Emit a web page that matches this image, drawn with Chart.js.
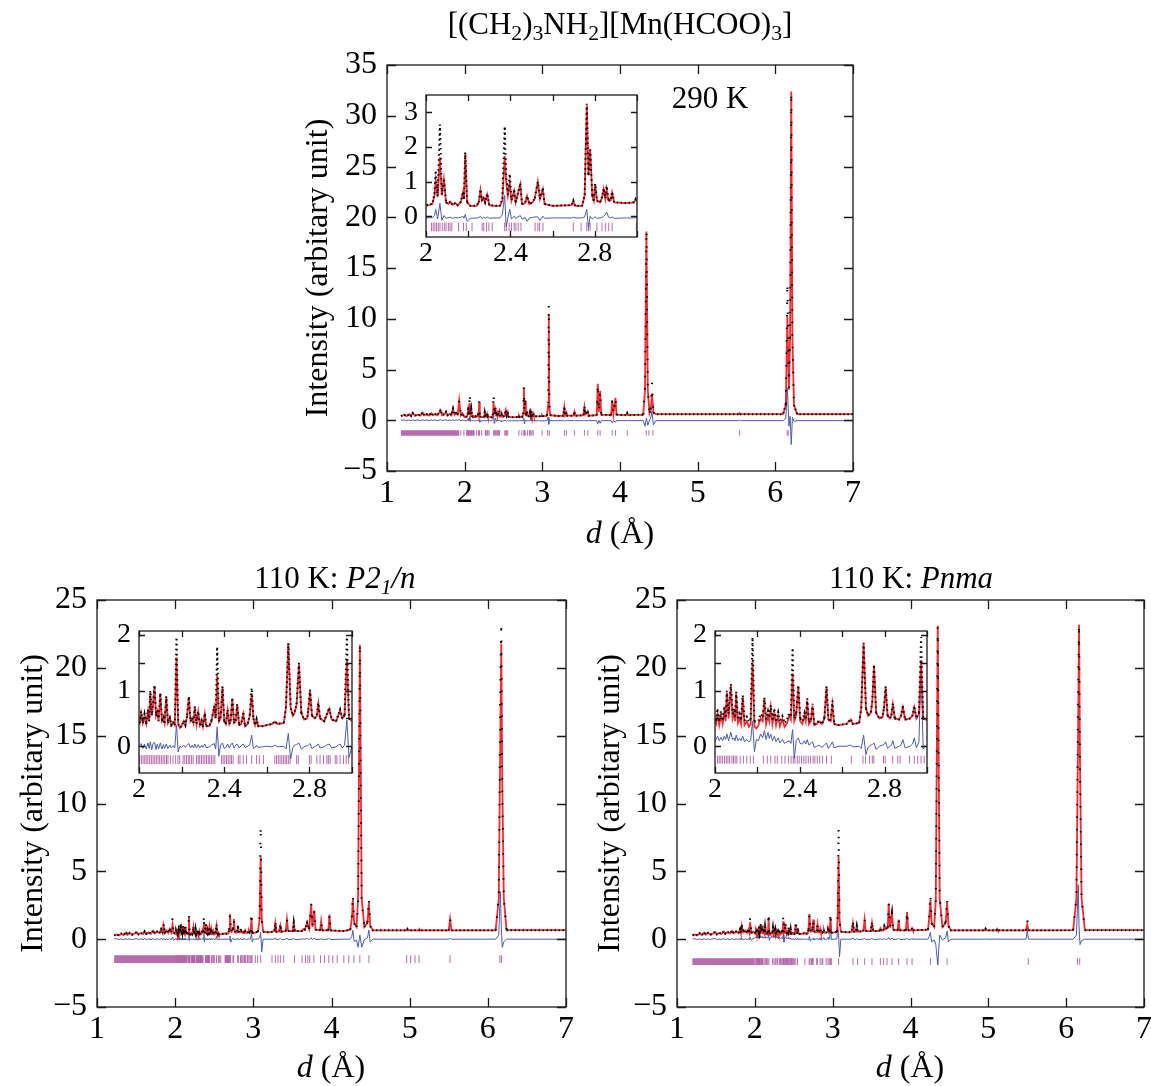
<!DOCTYPE html>
<html>
<head>
<meta charset="utf-8">
<script src="https://cdn.jsdelivr.net/npm/chart.js@4.4.1/dist/chart.umd.min.js"></script>
<style>
  body { margin: 0; background: #fff; }
  #page { position: relative; width: 1151px; height: 1086px; font-family: "Liberation Serif", "Times New Roman", serif; color: #000; }
  canvas { position: absolute; }
  .lbl { position: absolute; white-space: nowrap; transform: translate(-50%, -50%); line-height: 1; }
  sub { font-size: 0.7em; vertical-align: -0.32em; line-height: 0; }
</style>
</head>
<body>
<div id="page">
  <canvas id="cTop" width="600" height="510" style="left:287px;top:45px"></canvas>
  <canvas id="cLeft" width="600" height="501" style="left:0px;top:585px"></canvas>
  <canvas id="cRight" width="571" height="501" style="left:580px;top:585px"></canvas>
  <canvas id="iTop" width="268" height="180" style="left:380px;top:88px"></canvas>
  <canvas id="iLeft" width="270" height="180" style="left:95px;top:622px"></canvas>
  <canvas id="iRight" width="270" height="180" style="left:670px;top:622px"></canvas>

  <div class="lbl" style="left:620px;top:23px;font-size:31px">[(CH<sub>2</sub>)<sub>3</sub>NH<sub>2</sub>][Mn(HCOO)<sub>3</sub>]</div>
  <div class="lbl" style="left:710px;top:97px;font-size:31px">290 K</div>
  <div class="lbl" style="left:620px;top:532px;font-size:32px"><i>d</i> (Å)</div>
  <div class="lbl" style="left:335px;top:577px;font-size:31px">110 K: <i>P2</i><sub><i>1</i></sub><i>/n</i></div>
  <div class="lbl" style="left:911px;top:577px;font-size:31px">110 K: <i>Pnma</i></div>
  <div class="lbl" style="left:331px;top:1066px;font-size:32px"><i>d</i> (Å)</div>
  <div class="lbl" style="left:910px;top:1066px;font-size:32px"><i>d</i> (Å)</div>
</div>

<script>
// ---------- axis ticks ----------
const mainXTicks = [1, 2, 3, 4, 5, 6, 7];
const mainXLabels = ['1', '2', '3', '4', '5', '6', '7'];
const topYTicks = [-5, 0, 5, 10, 15, 20, 25, 30, 35];
const topYLabels = ['\u22125', '0', '5', '10', '15', '20', '25', '30', '35'];
const botYTicks = [-5, 0, 5, 10, 15, 20, 25];
const botYLabels = ['\u22125', '0', '5', '10', '15', '20', '25'];
const insetXTicks = [2, 2.2, 2.4, 2.6, 2.8, 3];
const insetXLabels = ['2', '', '2.4', '', '2.8', ''];
const topInsetYTicks = [0, 1, 2, 3];
const topInsetYLabels = ['0', '1', '2', '3'];
const botInsetYTicks = [0, 0.5, 1, 1.5, 2];
const botInsetYLabels = ['0', '', '1', '', '2'];

// ---------- 290 K ----------
const d290 = [1.18,1.22,1.25,1.29,1.31,1.33,1.36,1.40,1.43,1.46,
  1.48,1.51,1.54,1.57,1.59,1.62,1.65,1.69,1.71,1.74,
  1.76,1.78,1.81,1.83,1.85,1.87,1.89,1.91,1.93,1.95,
  1.97,1.99,2.000,2.030,2.040,2.046,2.055,2.066,2.075,2.085,
  2.095,2.105,2.115,2.125,2.140,2.150,2.165,2.175,2.180,2.186,
  2.195,2.210,2.240,2.250,2.258,2.265,2.272,2.280,2.290,2.300,
  2.320,2.350,2.362,2.373,2.380,2.388,2.397,2.405,2.412,2.418,
  2.425,2.433,2.447,2.455,2.470,2.479,2.490,2.505,2.515,2.530,
  2.540,2.554,2.562,2.600,2.690,2.698,2.706,2.740,2.752,2.762,
  2.770,2.778,2.788,2.795,2.802,2.810,2.825,2.835,2.842,2.850,
  2.856,2.865,2.875,2.882,2.892,2.950,2.985,2.994,3.000,3.030,
  3.060,3.075,3.083,3.090,3.100,3.200,3.270,3.283,3.295,3.310,
  3.320,3.400,3.413,3.425,3.530,3.542,3.555,3.585,3.597,3.700,
  3.714,3.728,3.745,3.758,3.885,3.899,3.915,3.942,3.955,4.080,
  4.093,4.105,4.300,4.322,4.340,4.358,4.380,4.395,4.412,4.430,
  4.460,5.530,5.540,5.550,6.100,6.135,6.155,6.175,6.190,6.205,
  6.220,6.240,6.280,7.000];
const calc290 = [0.40,0.55,0.40,0.60,0.42,0.70,0.45,0.55,0.45,0.75,
  0.48,0.60,0.45,0.70,0.50,0.60,0.48,1.00,0.50,0.60,
  0.80,0.50,0.65,0.50,1.10,0.55,0.70,0.55,1.95,0.50,
  0.70,0.40,0.30,0.35,0.60,1.02,0.55,1.70,0.60,1.07,
  0.40,0.35,0.42,0.33,0.38,0.32,0.40,0.68,0.50,1.81,
  0.40,0.30,0.30,0.40,0.76,0.45,0.53,0.40,0.63,0.32,
  0.30,0.30,0.45,1.74,1.00,0.60,0.97,0.45,0.60,0.73,
  0.40,0.60,0.92,0.35,0.38,0.58,0.35,0.40,0.50,0.99,
  0.50,0.78,0.35,0.30,0.32,0.44,0.30,0.30,0.60,3.20,
  1.20,1.94,0.60,0.45,0.92,0.45,0.40,0.55,0.78,0.50,
  0.78,0.45,0.45,0.68,0.40,0.38,0.40,0.49,0.42,0.40,
  0.45,1.50,10.50,1.50,0.50,0.42,0.45,1.30,0.50,0.75,
  0.45,0.45,0.85,0.45,0.50,1.30,0.60,0.90,0.45,0.50,
  3.60,0.80,2.90,0.55,0.50,2.00,0.60,2.20,0.55,0.50,
  0.70,0.50,0.55,3.00,18.60,3.00,0.70,1.00,2.60,0.80,
  0.60,0.60,0.70,0.60,0.60,1.50,10.20,3.00,8.00,32.40,
  8.00,1.50,0.60,0.60];
const obs290 = [0.40,0.58,0.40,0.62,0.42,0.72,0.45,0.58,0.45,0.78,
  0.48,0.60,0.45,0.74,0.50,0.62,0.48,1.05,0.50,0.62,
  0.85,0.50,0.66,0.50,1.15,0.55,0.72,0.55,2.00,0.50,
  0.70,0.40,0.32,0.36,0.65,1.33,0.58,2.65,0.62,1.10,
  0.40,0.36,0.43,0.33,0.39,0.32,0.42,0.70,0.50,1.85,
  0.40,0.30,0.31,0.40,0.78,0.45,0.55,0.40,0.65,0.32,
  0.31,0.30,0.50,2.60,1.16,0.62,1.23,0.47,0.61,0.75,
  0.40,0.61,0.94,0.35,0.39,0.58,0.35,0.41,0.52,1.00,
  0.50,0.80,0.35,0.30,0.32,0.45,0.30,0.30,0.62,3.25,
  1.15,1.92,0.60,0.45,0.94,0.45,0.40,0.56,0.80,0.52,
  0.88,0.46,0.45,0.70,0.40,0.38,0.40,0.50,0.42,0.40,
  0.46,1.60,11.40,1.55,0.50,0.42,0.45,1.32,0.50,0.76,
  0.45,0.45,0.86,0.45,0.50,1.32,0.60,0.92,0.45,0.50,
  3.55,0.82,2.85,0.55,0.50,2.02,0.60,2.22,0.55,0.50,
  0.72,0.50,0.55,3.10,18.70,2.90,0.75,1.10,3.70,0.75,
  0.60,0.60,0.70,0.60,0.60,1.60,13.50,3.20,8.00,32.30,
  8.10,1.50,0.60,0.60];
const diff290 = [0.00,0.03,-0.02,0.02,-0.03,0.03,-0.02,0.03,-0.04,0.04,
  -0.02,0.02,-0.03,0.04,-0.02,0.03,-0.05,0.06,-0.03,0.02,
  0.05,-0.04,0.02,-0.03,0.06,-0.05,0.03,-0.02,0.08,-0.06,
  0.02,-0.02,-0.05,-0.04,0.02,0.20,-0.08,0.37,-0.12,0.02,
  -0.06,-0.04,-0.03,-0.06,-0.04,-0.05,-0.03,0.00,-0.06,0.05,
  -0.15,-0.06,-0.05,-0.04,0.00,-0.07,-0.03,-0.06,-0.02,-0.06,
  -0.05,-0.05,0.05,0.60,-0.30,-0.05,0.20,-0.08,-0.03,0.00,
  -0.07,-0.03,0.02,-0.08,-0.04,-0.15,-0.05,-0.04,-0.02,-0.02,
  -0.12,0.00,-0.06,-0.05,-0.05,-0.03,-0.05,-0.05,-0.02,0.20,
  -0.35,0.00,-0.08,-0.05,-0.02,-0.06,-0.05,-0.03,0.00,0.05,
  0.12,-0.02,-0.05,-0.02,-0.06,-0.05,-0.05,-0.04,-0.05,-0.05,
  -0.04,0.30,-0.40,0.10,-0.05,-0.04,-0.04,-0.10,-0.04,-0.02,
  -0.04,-0.04,-0.03,-0.04,-0.04,-0.05,-0.04,-0.03,-0.04,-0.04,
  -0.35,0.00,-0.30,-0.04,-0.04,-0.25,-0.04,-0.20,-0.04,-0.04,
  -0.02,-0.04,-0.04,-0.60,0.20,-0.50,0.05,0.20,0.90,-0.45,
  -0.04,-0.04,0.02,-0.04,-0.04,0.20,3.20,-0.60,0.40,-2.40,
  0.30,-0.10,-0.04,-0.04];
const band290 = [1.18, 1.93];
const ticks290 = [1.95,1.99,2.026,2.034,2.042,2.050,2.058,2.066,2.077,2.087,2.095,2.106,2.114,2.122,
  2.154,2.178,2.191,2.218,2.266,2.274,2.287,2.298,2.314,2.373,2.381,2.394,2.405,2.418,2.426,2.437,
  2.450,2.517,2.530,2.538,2.554,2.698,2.735,2.762,2.770,2.778,2.810,2.834,2.850,2.866,2.882,2.997,
  3.069,3.090,3.284,3.310,3.413,3.542,3.585,3.714,3.744,3.899,3.942,4.093,4.338,4.372,4.424,
  5.540,6.153,6.166];

// ---------- 110 K, P2_1/n ----------
const dMono = [1.22,1.25,1.28,1.31,1.34,1.37,1.39,1.42,1.45,1.48,
  1.51,1.53,1.56,1.59,1.61,1.63,1.66,1.69,1.72,1.74,
  1.77,1.80,1.82,1.84,1.85,1.87,1.89,1.91,1.93,1.95,
  1.966,1.98,
  2.003,2.010,2.018,2.026,2.034,2.042,2.048,2.053,2.060,2.066,
  2.073,2.080,2.086,2.092,2.100,2.108,2.115,2.120,2.128,2.136,
  2.145,2.152,2.160,2.168,2.176,2.184,2.192,2.200,2.210,2.218,
  2.226,2.234,2.242,2.250,2.256,2.262,2.270,2.278,2.286,2.294,
  2.300,2.309,2.316,2.330,2.340,2.353,2.360,2.367,2.375,2.383,
  2.392,2.400,2.408,2.416,2.424,2.430,2.438,2.446,2.454,2.461,
  2.470,2.480,2.490,2.498,2.510,2.520,2.529,2.537,2.545,2.552,
  2.560,2.580,2.600,2.625,2.638,2.650,2.680,2.690,2.701,2.712,
  2.722,2.730,2.740,2.751,2.762,2.775,2.790,2.795,2.803,2.812,
  2.825,2.835,2.842,2.850,2.870,2.880,2.893,2.905,2.925,2.935,
  2.944,2.955,2.965,2.976,2.986,3.000,3.030,3.060,3.080,3.094,
  3.108,3.125,3.200,3.240,3.270,3.282,3.295,3.330,3.346,3.360,
  3.415,3.430,3.445,3.505,3.517,3.530,3.620,3.640,3.660,3.688,
  3.715,3.740,3.755,3.780,3.795,3.855,3.867,3.880,3.960,3.974,
  3.988,4.150,4.240,4.260,4.273,4.290,4.320,4.340,4.363,4.386,
  4.420,4.460,4.478,4.495,4.530,4.960,4.970,4.980,5.120,5.130,
  5.140,5.500,5.517,5.535,6.100,6.140,6.160,6.172,6.184,6.204,
  6.240,7.000];
const calcMono = [0.25,0.35,0.28,0.40,0.30,0.50,0.32,0.45,0.33,0.42,
  0.50,0.35,0.45,0.38,0.55,0.40,0.50,0.40,0.62,0.42,
  0.55,0.45,0.70,0.45,1.03,0.50,0.65,0.45,0.75,0.50,
  1.10,0.45,
  0.40,0.60,0.42,0.55,0.40,0.62,0.45,0.97,0.55,0.75,
  1.08,0.55,0.62,0.45,0.94,0.45,0.50,0.42,0.89,0.42,
  0.50,0.38,0.42,0.38,1.60,0.40,0.33,0.36,0.45,0.38,
  0.55,0.88,0.45,0.50,0.42,0.70,0.40,0.62,0.38,0.45,
  0.35,0.58,0.36,0.36,0.45,0.70,0.50,1.27,0.45,0.50,
  1.06,0.45,0.40,0.64,0.40,0.45,0.85,0.42,0.45,0.74,
  0.38,0.40,0.58,0.36,0.40,0.55,0.95,0.50,0.38,0.48,
  0.36,0.36,0.38,0.40,0.44,0.40,0.42,0.70,1.85,0.70,
  0.55,0.60,0.75,1.48,0.60,0.48,0.50,0.65,1.00,0.55,
  0.50,0.55,0.76,0.50,0.45,0.55,0.67,0.48,0.45,0.55,
  0.64,0.50,0.55,1.55,0.50,0.45,0.50,0.55,1.50,6.07,
  1.50,0.55,0.50,0.55,0.60,1.17,0.55,0.55,1.00,0.55,
  0.60,1.45,0.60,0.60,1.20,0.60,0.60,0.75,0.70,1.20,
  0.75,2.58,0.90,2.10,0.70,0.65,1.30,0.65,0.65,1.82,
  0.65,0.60,0.70,1.50,2.90,1.20,0.90,3.00,21.70,3.00,
  0.90,1.20,2.70,1.00,0.65,0.65,0.74,0.65,0.65,0.72,
  0.65,0.65,1.47,0.65,0.65,3.00,15.00,21.80,12.00,3.00,
  0.66,0.66];
const obsMono = [0.27,0.38,0.28,0.42,0.30,0.52,0.32,0.47,0.33,0.44,
  0.53,0.35,0.47,0.38,0.58,0.40,0.52,0.40,0.66,0.42,
  0.57,0.45,0.74,0.45,1.08,0.50,0.68,0.45,0.80,0.50,
  1.60,0.45,
  0.42,0.63,0.42,0.58,0.40,0.66,0.45,1.00,0.55,0.78,
  1.10,0.55,0.64,0.45,0.96,0.45,0.52,0.42,0.90,0.42,
  0.51,0.38,0.43,0.38,1.96,0.40,0.34,0.36,0.46,0.38,
  0.56,0.90,0.45,0.51,0.42,0.72,0.40,0.63,0.38,0.46,
  0.35,0.60,0.36,0.36,0.46,0.72,0.50,1.79,0.45,0.51,
  1.08,0.45,0.40,0.66,0.40,0.46,0.88,0.42,0.46,0.76,
  0.38,0.41,0.60,0.36,0.40,0.56,1.05,0.50,0.38,0.49,
  0.36,0.36,0.38,0.40,0.45,0.40,0.42,0.70,1.85,0.68,
  0.55,0.61,0.76,1.50,0.60,0.48,0.51,0.66,1.02,0.55,
  0.50,0.56,0.78,0.50,0.45,0.56,0.69,0.48,0.45,0.56,
  0.66,0.50,0.56,1.96,0.50,0.45,0.50,0.56,1.60,8.30,
  1.40,0.55,0.50,0.55,0.60,1.20,0.55,0.55,1.02,0.55,
  0.60,1.47,0.60,0.60,1.22,0.60,0.60,0.76,0.70,1.22,
  0.75,2.60,0.90,2.12,0.70,0.65,1.32,0.65,0.65,1.85,
  0.65,0.60,0.70,1.60,3.24,1.15,0.90,2.80,21.80,2.80,
  0.90,1.25,2.95,0.95,0.65,0.65,0.75,0.65,0.65,0.73,
  0.65,0.65,1.50,0.65,0.65,3.20,19.00,23.30,11.00,3.00,
  0.66,0.66];
const diffMono = [0.02,0.03,-0.02,0.02,-0.03,0.03,-0.02,0.02,-0.03,0.02,
  0.04,-0.03,0.02,-0.03,0.04,-0.03,0.02,-0.04,0.05,-0.04,
  0.03,-0.03,0.05,-0.05,0.06,-0.04,0.03,-0.04,0.05,-0.05,
  0.15,-0.08,
  0.02,0.05,-0.04,0.04,-0.05,0.06,-0.04,0.08,-0.06,0.05,
  0.07,-0.06,0.04,-0.05,0.06,-0.05,0.03,-0.04,0.04,-0.04,
  0.02,-0.03,0.01,-0.03,0.38,-0.10,0.00,-0.02,0.02,-0.02,
  0.02,0.05,-0.03,0.02,-0.03,0.04,-0.03,0.03,-0.03,0.02,
  -0.02,0.04,-0.03,-0.01,0.02,0.05,-0.05,0.35,-0.18,0.02,
  0.06,-0.04,-0.02,0.04,-0.03,0.02,0.06,-0.03,0.02,0.04,
  -0.03,0.01,0.04,-0.02,0.00,0.03,0.20,-0.04,-0.02,0.02,
  -0.02,-0.01,0.00,-0.01,0.02,-0.01,0.00,-0.05,0.23,-0.23,
  -0.03,0.02,0.03,0.06,-0.05,-0.01,0.01,0.02,0.05,-0.04,
  -0.01,0.02,0.04,-0.03,-0.01,0.02,0.04,-0.03,-0.01,0.02,
  0.04,-0.03,0.02,0.47,-0.20,0.00,0.00,0.01,0.10,0.50,
  -0.93,0.00,0.00,0.00,0.00,0.10,-0.05,0.00,0.05,-0.03,
  0.00,0.08,-0.04,0.00,0.06,-0.03,0.00,0.02,0.00,0.05,
  -0.03,0.10,-0.05,0.08,-0.04,0.00,0.05,-0.02,0.00,0.08,
  -0.03,0.00,0.00,0.20,0.66,-0.20,-0.05,-0.60,0.30,-0.60,
  -0.05,0.10,0.66,-0.20,0.00,0.00,0.02,0.00,0.00,0.02,
  0.00,0.00,0.05,0.00,0.00,0.30,3.50,1.00,-0.60,-0.20,
  0.00,0.00];
const bandMono = [1.22, 2.0];
const ticksMono = [2.003,2.011,2.019,2.027,2.034,2.042,2.050,2.058,2.066,2.074,2.081,2.089,2.097,2.105,
  2.113,2.121,2.129,2.136,2.147,2.160,2.172,2.183,2.191,2.207,2.215,2.223,2.231,2.238,2.246,2.254,
  2.270,2.278,2.285,2.293,2.301,2.309,2.317,2.325,2.332,2.340,2.348,2.356,2.387,2.395,2.403,2.411,
  2.419,2.427,2.434,2.442,2.466,2.474,2.489,2.505,2.529,2.552,2.565,2.584,2.638,2.646,2.654,2.662,
  2.670,2.678,2.686,2.693,2.701,2.709,2.740,2.748,2.800,2.808,2.835,2.850,2.866,2.882,2.889,2.897,
  2.921,2.929,2.944,2.960,2.973,2.984,3.026,3.055,3.094,3.239,3.282,3.316,3.346,3.389,3.526,3.624,
  3.667,3.697,3.722,3.774,3.859,3.910,3.966,4.017,4.073,4.158,4.222,4.286,4.363,4.479,4.962,5.013,
  5.068,5.120,5.517,6.154,6.175];

// ---------- 110 K, Pnma ----------
const dOrth = [1.20,1.23,1.26,1.29,1.32,1.35,1.37,1.40,1.43,1.46,
  1.49,1.51,1.54,1.57,1.60,1.62,1.65,1.68,1.71,1.73,
  1.76,1.79,1.81,1.82,1.832,1.85,1.88,1.90,1.92,1.93,
  1.939,1.955,1.975,2.000,2.005,2.012,2.020,2.028,2.036,2.044,
  2.050,2.056,2.064,2.075,2.083,2.090,2.095,2.100,2.108,2.116,
  2.123,2.131,2.139,2.150,2.160,2.168,2.177,2.186,2.195,2.205,
  2.215,2.225,2.233,2.241,2.250,2.256,2.263,2.271,2.280,2.288,
  2.298,2.306,2.318,2.328,2.340,2.350,2.358,2.366,2.374,2.383,
  2.393,2.402,2.412,2.422,2.428,2.435,2.443,2.452,2.460,2.468,
  2.480,2.490,2.505,2.516,2.526,2.535,2.545,2.554,2.562,2.580,
  2.620,2.640,2.650,2.680,2.690,2.701,2.712,2.722,2.735,2.742,
  2.750,2.760,2.775,2.790,2.797,2.805,2.814,2.825,2.832,2.839,
  2.848,2.868,2.878,2.886,2.897,2.920,2.932,2.940,2.950,2.962,
  2.972,2.982,2.992,3.000,3.030,3.055,3.064,3.076,3.088,3.105,
  3.200,3.245,3.260,3.275,3.298,3.310,3.322,3.395,3.410,3.425,
  3.490,3.505,3.520,3.600,3.613,3.625,3.652,3.664,3.680,3.708,
  3.720,3.738,3.762,3.778,3.835,3.848,3.862,3.942,3.956,3.970,
  4.010,4.020,4.030,4.225,4.240,4.256,4.272,4.305,4.325,4.350,
  4.375,4.410,4.452,4.470,4.488,4.520,4.955,4.964,4.973,5.105,
  5.114,5.123,5.485,5.500,5.515,6.090,6.132,6.155,6.165,6.178,
  6.198,6.240,7.000];
const calcOrth = [0.26,0.35,0.28,0.42,0.30,0.48,0.33,0.45,0.34,0.40,
  0.52,0.36,0.46,0.38,0.56,0.40,0.52,0.42,0.60,0.42,
  0.56,0.45,0.70,0.48,1.00,0.50,0.65,0.45,0.72,0.50,
  1.25,0.45,0.55,0.45,0.40,0.58,0.38,0.55,0.40,0.62,
  0.45,0.97,0.50,1.09,0.50,0.60,0.45,0.95,0.42,0.50,
  0.40,0.89,0.38,0.45,0.35,0.40,1.54,0.35,0.32,0.38,
  0.50,0.45,0.85,0.40,0.55,0.45,0.70,0.40,0.60,0.38,
  0.55,0.36,0.48,0.35,0.42,0.55,0.48,1.31,0.45,0.55,
  1.07,0.45,0.40,0.55,0.45,0.82,0.40,0.45,0.73,0.38,
  0.40,0.45,0.40,0.50,1.06,0.48,0.45,0.75,0.40,0.38,
  0.40,0.48,0.40,0.42,0.70,1.85,0.70,0.55,0.60,0.80,
  1.45,0.60,0.50,0.52,0.68,1.06,0.55,0.50,0.55,0.75,
  0.50,0.48,0.55,0.70,0.48,0.50,0.55,0.70,0.50,0.58,
  1.55,0.50,0.48,0.48,0.50,0.55,1.50,6.10,1.50,0.55,
  0.50,0.55,1.17,0.55,0.55,0.95,0.55,0.60,1.45,0.60,
  0.60,1.20,0.60,0.62,0.80,0.62,0.65,0.95,0.75,0.85,
  2.63,0.85,1.90,0.70,0.65,1.45,0.65,0.65,2.00,0.65,
  0.65,0.80,0.65,0.70,1.50,2.90,1.20,0.90,3.00,23.10,
  3.00,0.90,1.20,2.70,1.00,0.65,0.65,0.75,0.65,0.65,
  0.75,0.65,0.65,1.10,0.65,0.66,3.00,16.00,23.20,13.00,
  3.00,0.66,0.66];
const obsOrth = [0.28,0.38,0.28,0.44,0.30,0.51,0.33,0.47,0.34,0.42,
  0.55,0.36,0.48,0.38,0.59,0.40,0.54,0.42,0.64,0.42,
  0.58,0.45,0.74,0.48,1.05,0.50,0.68,0.45,0.77,0.50,
  1.60,0.45,0.58,0.50,0.48,0.66,0.46,0.63,0.48,0.70,
  0.53,1.00,0.58,1.12,0.58,0.68,0.53,0.98,0.50,0.58,
  0.48,0.92,0.46,0.53,0.44,0.48,1.96,0.44,0.45,0.46,
  0.58,0.53,0.88,0.48,0.63,0.53,0.74,0.48,0.66,0.46,
  0.61,0.44,0.54,0.42,0.48,0.60,0.55,1.77,0.50,0.60,
  1.10,0.50,0.45,0.60,0.50,0.86,0.44,0.48,0.76,0.40,
  0.41,0.46,0.40,0.51,1.08,0.48,0.46,0.82,0.40,0.38,
  0.40,0.49,0.40,0.42,0.70,1.86,0.68,0.55,0.61,0.81,
  1.47,0.60,0.50,0.53,0.69,1.08,0.55,0.50,0.56,0.77,
  0.50,0.48,0.56,0.72,0.48,0.50,0.56,0.72,0.50,0.60,
  1.96,0.50,0.48,0.48,0.50,0.56,1.80,8.20,1.30,0.55,
  0.50,0.55,1.20,0.55,0.55,0.97,0.55,0.60,1.47,0.60,
  0.60,1.22,0.60,0.62,0.81,0.62,0.65,0.97,0.75,0.86,
  2.65,0.85,1.92,0.70,0.65,1.47,0.65,0.65,2.03,0.65,
  0.65,0.81,0.65,0.70,1.60,3.25,1.15,0.90,2.90,23.00,
  3.10,0.90,1.25,2.95,0.95,0.65,0.65,0.76,0.65,0.65,
  0.76,0.65,0.65,1.47,0.65,0.66,3.20,19.00,23.20,12.50,
  3.00,0.66,0.66];
const diffOrth = [0.02,0.03,-0.02,0.02,-0.03,0.03,-0.02,0.02,-0.03,0.02,
  0.04,-0.03,0.02,-0.03,0.04,-0.03,0.02,-0.04,0.05,-0.04,
  0.03,-0.03,0.05,-0.04,0.06,-0.04,0.03,-0.04,0.05,-0.05,
  0.15,-0.08,0.03,0.08,0.12,0.18,0.10,0.16,0.10,0.18,
  0.12,0.22,0.10,0.25,0.12,0.15,0.10,0.20,0.10,0.14,
  0.10,0.18,0.08,0.12,0.08,0.10,0.45,-0.10,0.12,0.10,
  0.22,0.15,0.28,0.12,0.25,0.14,0.22,0.10,0.18,0.08,
  0.15,0.06,0.12,0.05,0.08,0.10,0.05,0.30,-0.22,0.10,
  0.15,0.05,0.04,0.10,0.04,0.12,0.02,0.05,0.08,-0.02,
  0.00,0.02,-0.02,0.02,0.06,-0.04,0.02,0.08,-0.03,0.00,
  0.00,0.02,-0.01,0.00,-0.04,0.20,-0.15,-0.02,0.02,0.03,
  0.06,-0.06,0.00,0.02,0.03,0.08,-0.04,0.00,0.02,0.10,
  -0.04,0.00,0.03,0.12,-0.03,0.00,0.04,0.15,-0.03,0.08,
  1.45,-0.05,0.00,0.00,0.00,0.02,1.00,0.40,-1.30,0.00,
  0.00,0.00,0.10,-0.03,0.00,0.05,-0.02,0.00,0.08,-0.03,
  0.00,0.06,-0.02,0.00,0.03,0.00,0.00,0.05,-0.02,0.02,
  0.12,-0.05,0.08,-0.03,0.00,0.06,-0.02,0.00,0.08,-0.02,
  0.00,0.03,0.00,0.00,0.20,0.50,-0.20,-0.05,-0.40,-1.90,
  0.30,-0.05,0.10,0.60,-0.20,0.00,0.00,0.02,0.00,0.00,
  0.02,0.00,0.00,0.66,0.00,0.00,0.30,4.00,1.00,-0.40,
  -0.10,0.00,0.00];
const bandOrth = [1.197, 2.0];
const ticksOrth = [2.012,2.020,2.028,2.036,2.045,2.053,2.061,2.069,2.080,2.087,2.095,2.103,2.119,2.134,
  2.150,2.166,2.181,2.228,2.247,2.263,2.283,2.294,2.315,2.330,2.346,2.359,2.369,2.377,2.388,2.397,
  2.408,2.419,2.429,2.440,2.450,2.463,2.471,2.482,2.494,2.507,2.526,2.549,2.643,2.698,2.710,2.729,
  2.742,2.749,2.795,2.803,2.839,2.862,2.873,2.917,2.940,2.956,2.972,2.987,3.076,3.261,3.321,3.411,
  3.505,3.613,3.655,3.698,3.763,3.849,3.956,4.020,4.256,4.350,4.470,5.513,6.144,6.174];

// ---------- drawing ----------
Chart.defaults.font.family = '"Liberation Serif", "Times New Roman", serif';
Chart.defaults.color = '#000';

const RED = 'rgba(240, 16, 20, 0.88)';
const BLUE = '#4b5daa';
const PURPLE = 'rgba(170, 82, 160, 0.85)';

// frame on all four sides with inward tick marks
const frameTicks = {
  id: 'frameTicks',
  afterDraw(chart, args, opts) {
    const { ctx, chartArea: a, scales: { x, y } } = chart;
    const L = opts.len;
    ctx.save();
    ctx.strokeStyle = '#1a1a1a';
    ctx.lineWidth = 1.3;
    ctx.strokeRect(a.left, a.top, a.right - a.left, a.bottom - a.top);
    ctx.beginPath();
    x.ticks.forEach(t => {
      const p = Math.round(x.getPixelForValue(t.value)) + 0.5;
      ctx.moveTo(p, a.bottom); ctx.lineTo(p, a.bottom - L);
      ctx.moveTo(p, a.top); ctx.lineTo(p, a.top + L);
    });
    y.ticks.forEach(t => {
      const p = Math.round(y.getPixelForValue(t.value)) + 0.5;
      ctx.moveTo(a.left, p); ctx.lineTo(a.left + L, p);
      ctx.moveTo(a.right, p); ctx.lineTo(a.right - L, p);
    });
    ctx.stroke();
    ctx.restore();
  }
};

function drawPanel(id, o) {
  const pts = ys => o.d.map((x, i) => ({ x: x, y: ys[i] }));
  // observed points: dense dots on flat stretches, sparser along the steep flanks of big peaks
  const steepDash = c => (Math.abs(c.p1.y - c.p0.y) > 3 * Math.abs(c.p1.x - c.p0.x) + 6) ? o.steepDash : undefined;
  return new Chart(document.getElementById(id), {
    type: 'scatter',
    data: {
      datasets: [
        { data: pts(o.obs), showLine: true, borderColor: '#000', borderWidth: 2, borderDash: [1.4, 2.6],
          pointRadius: 0, segment: { borderDash: steepDash } },
        { data: pts(o.calc), showLine: true, borderColor: RED, borderWidth: o.lw, pointRadius: 0 },
        { data: pts(o.diff), showLine: true, borderColor: BLUE, borderWidth: 1, pointRadius: 0 },
        { data: o.ticks.map(x => ({ x: x, y: o.tickY })), showLine: false, pointStyle: 'line', pointRotation: 90,
          pointRadius: o.tickR, pointBorderColor: PURPLE, pointBorderWidth: 1 },
        { data: [{ x: o.band[0], y: o.tickY }, { x: o.band[1], y: o.tickY }], showLine: true,
          borderColor: PURPLE, borderWidth: 2 * o.tickR, borderCapStyle: 'butt', pointRadius: 0 }
      ]
    },
    options: {
      responsive: false,
      animation: false,
      devicePixelRatio: 1,
      layout: { padding: { left: 0, top: o.padT, right: o.padR, bottom: 0 } },
      plugins: { legend: { display: false }, tooltip: { enabled: false }, frameTicks: { len: o.len } },
      scales: {
        x: {
          type: 'linear', min: o.xMin, max: o.xMax,
          grid: { display: false, drawTicks: false }, border: { display: false },
          afterBuildTicks: s => { s.ticks = o.xTicks.map(v => ({ value: v })); },
          afterFit: s => { s.height = o.xH; s.paddingLeft = 0; s.paddingRight = 0; },
          ticks: { autoSkip: false, maxRotation: 0, padding: o.xPad, font: { size: o.font },
                   callback: (v, i) => o.xLabels[i] }
        },
        y: {
          type: 'linear', min: o.yMin, max: o.yMax,
          grid: { display: false, drawTicks: false }, border: { display: false },
          afterBuildTicks: s => { s.ticks = o.yTicks.map(v => ({ value: v })); },
          afterFit: s => { s.width = o.yW; s.paddingTop = 0; s.paddingBottom = 0; },
          ticks: { autoSkip: false, padding: o.yPad, font: { size: o.font },
                   callback: (v, i) => o.yLabels[i] },
          title: { display: !!o.yTitle, text: 'Intensity (arbitary unit)', font: { size: 32 },
                   padding: { top: o.titlePad || 0, bottom: 0 } }
        }
      }
    },
    plugins: [frameTicks]
  });
}

const mainBase = { xMin: 1, xMax: 7, xTicks: mainXTicks, xLabels: mainXLabels, font: 32, xPad: 3, yPad: 10,
                   len: 9, lw: 1.8, yTitle: true, steepDash: [1.5, 11] };
const insetBase = { xMin: 2, xMax: 3, xTicks: insetXTicks, xLabels: insetXLabels, font: 28, xPad: 0, yPad: 8,
                    len: 6, lw: 1.8, steepDash: [1.5, 3.5] };

// 290 K
drawPanel('cTop', Object.assign({}, mainBase, {
  d: d290, calc: calc290, obs: obs290, diff: diff290, ticks: ticks290, band: band290,
  yMin: -5, yMax: 35, yTicks: topYTicks, yLabels: topYLabels,
  tickY: -1.25, tickR: 2.7, padT: 20, padR: 34, xH: 84, yW: 100, titlePad: 12
}));
drawPanel('iTop', Object.assign({}, insetBase, {
  d: d290, calc: calc290, obs: obs290, diff: diff290, ticks: ticks290, band: band290,
  yMin: -0.6, yMax: 3.5, yTicks: topInsetYTicks, yLabels: topInsetYLabels,
  tickY: -0.31, tickR: 4.3, padT: 7, padR: 11, xH: 31, yW: 46
}));

// 110 K, P2_1/n
drawPanel('cLeft', Object.assign({}, mainBase, {
  d: dMono, calc: calcMono, obs: obsMono, diff: diffMono, ticks: ticksMono, band: bandMono,
  yMin: -5, yMax: 25, yTicks: botYTicks, yLabels: botYLabels,
  tickY: -1.47, tickR: 3.9, padT: 15, padR: 34, xH: 79, yW: 97, titlePad: 14
}));
drawPanel('iLeft', Object.assign({}, insetBase, {
  d: dMono, calc: calcMono, obs: obsMono, diff: diffMono, ticks: ticksMono, band: bandMono,
  yMin: -0.48, yMax: 2.07, yTicks: botInsetYTicks, yLabels: botInsetYLabels,
  tickY: -0.24, tickR: 4.5, padT: 9, padR: 13, xH: 29, yW: 44
}));

// 110 K, Pnma
drawPanel('cRight', Object.assign({}, mainBase, {
  d: dOrth, calc: calcOrth, obs: obsOrth, diff: diffOrth, ticks: ticksOrth, band: bandOrth,
  yMin: -5, yMax: 25, yTicks: botYTicks, yLabels: botYLabels,
  tickY: -1.65, tickR: 3.4, padT: 15, padR: 7, xH: 79, yW: 97, titlePad: 11
}));
drawPanel('iRight', Object.assign({}, insetBase, {
  d: dOrth, calc: calcOrth, obs: obsOrth, diff: diffOrth, ticks: ticksOrth, band: bandOrth,
  yMin: -0.48, yMax: 2.07, yTicks: botInsetYTicks, yLabels: botInsetYLabels,
  tickY: -0.24, tickR: 4.0, padT: 9, padR: 13, xH: 29, yW: 45
}));
</script>
</body>
</html>
